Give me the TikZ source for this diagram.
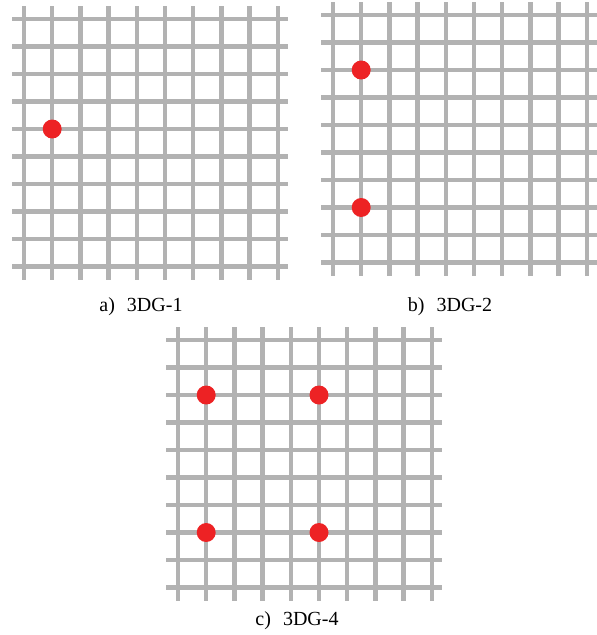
\documentclass[tikz,border=0pt]{standalone}
\usepackage{fontspec}
\setmainfont{Liberation Serif}
\definecolor{gridgray}{RGB}{178,178,178}
\definecolor{dotred}{RGB}{237,34,36}
\tikzset{
  gridline/.style={draw=gridgray, line width=4.5pt},
  dot/.style={circle, fill=dotred, inner sep=0pt, minimum size=19pt},
  caption/.style={font=\fontsize{20}{24}\selectfont, inner sep=0pt, anchor=base}
}
% #1,#2: first crossing of the mesh
\newcommand{\meshpanel}[2]{%
  \foreach \i in {0,...,9} {
    \draw[gridline] (#1-12,#2+\i*27.5) -- (#1+263.8,#2+\i*27.5);
    \draw[gridline] (#1+\i*28.2,#2-13) -- (#1+\i*28.2,#2+260.5);
  }}
\begin{document}
\begin{tikzpicture}[x=1pt,y=-1pt]
\useasboundingbox (0,0) rectangle (597,635);
\meshpanel{24}{19}
\meshpanel{333}{15}
\meshpanel{178}{340}
\node[dot] (a1) at (24+28.2,19+4*27.5) {};
\node[dot] (b1) at (333+28.2,15+2*27.5) {};
\node[dot] (b2) at (333+28.2,15+7*27.5) {};
\node[dot] (c1) at (178+28.2,340+2*27.5) {};
\node[dot] (c2) at (178+5*28.2,340+2*27.5) {};
\node[dot] (c3) at (178+28.2,340+7*27.5) {};
\node[dot] (c4) at (178+5*28.2,340+7*27.5) {};
\node[caption] (capa) at (141,311) {a)\hspace{0.6em}3DG-1};
\node[caption] (capb) at (450,311) {b)\hspace{0.6em}3DG-2};
\node[caption] (capc) at (297,625) {c)\hspace{0.6em}3DG-4};
\end{tikzpicture}
\end{document}
